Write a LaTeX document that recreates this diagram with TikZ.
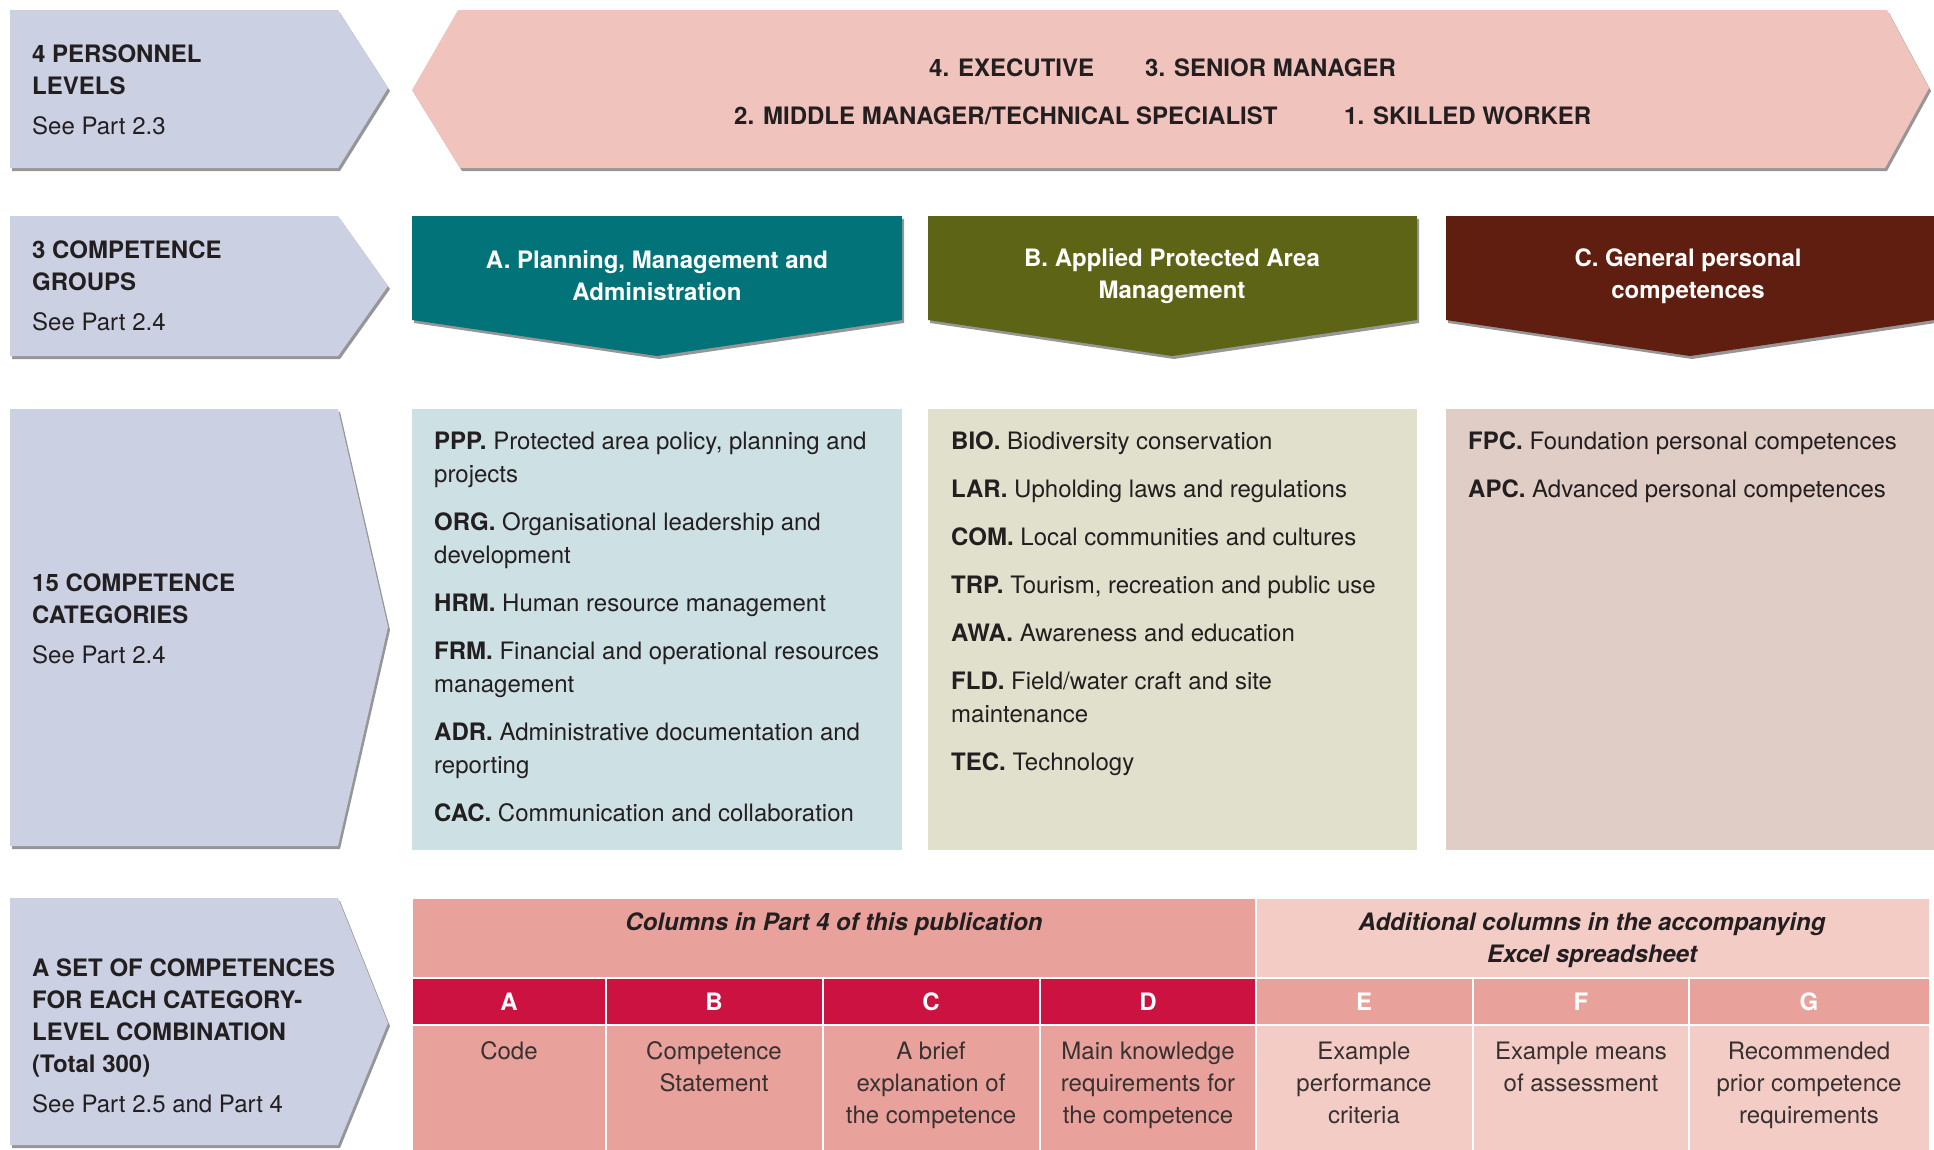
\documentclass[tikz,border=0pt]{standalone}
\usepackage{fontspec}
\setmainfont{TeX Gyre Heros}
\usetikzlibrary{shadows}
\definecolor{arrowblue}{RGB}{203,208,226}
\definecolor{arrowpink}{RGB}{241,195,189}
\definecolor{grpA}{RGB}{2,115,120}
\definecolor{grpB}{RGB}{93,100,22}
\definecolor{grpC}{RGB}{96,30,16}
\definecolor{boxA}{RGB}{205,224,227}
\definecolor{boxB}{RGB}{225,224,204}
\definecolor{boxC}{RGB}{224,205,197}
\definecolor{tabmid}{RGB}{232,162,155}
\definecolor{tablight}{RGB}{244,204,198}
\definecolor{tabred}{RGB}{204,18,64}
\definecolor{txt}{RGB}{35,31,32}
\definecolor{txtlight}{RGB}{55,50,50}
\begin{document}
\begin{tikzpicture}[x=1pt,y=-1pt,
  shadowed/.style={drop shadow={shadow xshift=2pt,shadow yshift=-3pt,fill=black!75,opacity=0.55}},
  lefttext/.style={font=\fontsize{24}{32}\selectfont,text=txt,inner sep=0pt,align=left,anchor=base west},
  leveltext/.style={font=\fontsize{24}{32}\selectfont\bfseries,text=txt,inner sep=0pt,anchor=base west},
  grptext/.style={font=\fontsize{24}{32}\selectfont\bfseries,text=white,inner sep=0pt,align=center},
  itemtext/.style={font=\fontsize{24}{33}\selectfont,text=txt,inner sep=0pt,align=left,anchor=base west},
  cell/.style={draw=white,line width=2.5pt},
  tabhead/.style={font=\fontsize{24}{32}\selectfont\bfseries\itshape,text=txt,inner sep=0pt,align=center,anchor=base},
  letter/.style={font=\fontsize{24}{32}\selectfont\bfseries,text=white,inner sep=0pt,anchor=base},
  celltext/.style={font=\fontsize{24}{32}\selectfont,text=txtlight,inner sep=0pt,align=center,anchor=base}
]
\useasboundingbox (0,0) rectangle (1934,1149);

% ---------- left arrows ----------
\fill[arrowblue,shadowed] (10,10) -- (338,10) -- (388,88) -- (338,168) -- (10,168) -- cycle;
\fill[arrowblue,shadowed] (10,216) -- (338,216) -- (388,286) -- (338,356) -- (10,356) -- cycle;
\fill[arrowblue,shadowed] (10,409) -- (338,409) -- (388,627) -- (338,846) -- (10,846) -- cycle;
\fill[arrowblue,shadowed] (10,898) -- (338,898) -- (388,1023) -- (338,1145) -- (10,1145) -- cycle;

% (anchors at the baseline of the last line)
\node[lefttext] (l1) at (32,134) {\textbf{4 PERSONNEL}\\\textbf{LEVELS}\\[8pt]See Part 2.3};
\node[lefttext] (l2) at (32,330) {\textbf{3 COMPETENCE}\\\textbf{GROUPS}\\[8pt]See Part 2.4};
\node[lefttext] (l3) at (32,663) {\textbf{15 COMPETENCE}\\\textbf{CATEGORIES}\\[8pt]See Part 2.4};
\node[lefttext] (l4) at (32,1112) {\textbf{A SET OF COMPETENCES}\\\textbf{FOR EACH CATEGORY-}\\\textbf{LEVEL COMBINATION}\\\textbf{(Total 300)}\\[8pt]See Part 2.5 and Part 4};

% ---------- personnel levels arrow ----------
\fill[arrowpink,shadowed] (412,90) -- (458,10) -- (1887,10) -- (1929,88) -- (1885,168) -- (460,168) -- cycle;
\node[leveltext] (lv4) at (929,76) {4. EXECUTIVE};
\node[leveltext] (lv3) at (1145,76) {3. SENIOR MANAGER};
\node[leveltext] (lv2) at (734,124) {2. MIDDLE MANAGER/TECHNICAL SPECIALIST};
\node[leveltext] (lv1) at (1344,124) {1. SKILLED WORKER};

% ---------- competence groups ----------
\fill[grpA,shadowed] (412,216) -- (902,216) -- (902,320) -- (657,356) -- (412,320) -- cycle;
\fill[grpB,shadowed] (928,216) -- (1417,216) -- (1417,320) -- (1172,356) -- (928,320) -- cycle;
\fill[grpC,shadowed] (1446,216) -- (1934,216) -- (1934,320) -- (1690,356) -- (1446,320) -- cycle;
\node[grptext] (gA) at (657,276) {A. Planning, Management and\\Administration};
\node[grptext] (gB) at (1172,276) {B. Applied Protected Area\\Management};
\node[grptext] (gC) at (1688,276) {C. General personal\\competences};

% ---------- competence categories ----------
\fill[boxA] (412,409) rectangle (902,850);
\fill[boxB] (928,409) rectangle (1417,850);
\fill[boxC] (1446,409) rectangle (1934,850);

\node[itemtext] (cA) at (434,821) {\textbf{PPP.} Protected area policy, planning and\\projects\\[15pt]
\textbf{ORG.} Organisational leadership and\\development\\[15pt]
\textbf{HRM.} Human resource management\\[15pt]
\textbf{FRM.} Financial and operational resources\\management\\[15pt]
\textbf{ADR.} Administrative documentation and\\reporting\\[15pt]
\textbf{CAC.} Communication and collaboration};

\node[itemtext] (cB) at (951,770) {\textbf{BIO.} Biodiversity conservation\\[15pt]
\textbf{LAR.} Upholding laws and regulations\\[15pt]
\textbf{COM.} Local communities and cultures\\[15pt]
\textbf{TRP.} Tourism, recreation and public use\\[15pt]
\textbf{AWA.} Awareness and education\\[15pt]
\textbf{FLD.} Field/water craft and site\\maintenance\\[15pt]
\textbf{TEC.} Technology};

\node[itemtext] (cC) at (1468,497) {\textbf{FPC.} Foundation personal competences\\[15pt]
\textbf{APC.} Advanced personal competences};

% ---------- table ----------
\path[cell,fill=tabmid] (412,898) rectangle (1256,978);
\path[cell,fill=tablight] (1256,898) rectangle (1930,978);
\path[cell,fill=tabred] (412,978) rectangle (606,1025);
\path[cell,fill=tabred] (606,978) rectangle (823,1025);
\path[cell,fill=tabred] (823,978) rectangle (1040,1025);
\path[cell,fill=tabred] (1040,978) rectangle (1256,1025);
\path[cell,fill=tabmid] (1256,978) rectangle (1473,1025);
\path[cell,fill=tabmid] (1473,978) rectangle (1689,1025);
\path[cell,fill=tabmid] (1689,978) rectangle (1930,1025);
\path[cell,fill=tabmid] (412,1025) rectangle (606,1152);
\path[cell,fill=tabmid] (606,1025) rectangle (823,1152);
\path[cell,fill=tabmid] (823,1025) rectangle (1040,1152);
\path[cell,fill=tabmid] (1040,1025) rectangle (1256,1152);
\path[cell,fill=tablight] (1256,1025) rectangle (1473,1152);
\path[cell,fill=tablight] (1473,1025) rectangle (1689,1152);
\path[cell,fill=tablight] (1689,1025) rectangle (1930,1152);

\node[tabhead] (h1) at (834,930) {Columns in Part 4 of this publication};
\node[tabhead] (h2) at (1592,962) {Additional columns in the accompanying\\Excel spreadsheet};

\node[letter] (kA) at (509,1010) {A};
\node[letter] (kB) at (714,1010) {B};
\node[letter] (kC) at (931,1010) {C};
\node[letter] (kD) at (1148,1010) {D};
\node[letter] (kE) at (1364,1010) {E};
\node[letter] (kF) at (1581,1010) {F};
\node[letter] (kG) at (1809,1010) {G};

\node[celltext] (tA) at (509,1059) {Code};
\node[celltext] (tB) at (714,1091) {Competence\\Statement};
\node[celltext] (tC) at (931,1123) {A brief\\explanation of\\the competence};
\node[celltext] (tD) at (1148,1123) {Main knowledge\\requirements for\\the competence};
\node[celltext] (tE) at (1364,1123) {Example\\performance\\criteria};
\node[celltext] (tF) at (1581,1091) {Example means\\of assessment};
\node[celltext] (tG) at (1809,1123) {Recommended\\prior competence\\requirements};
\end{tikzpicture}
\end{document}
